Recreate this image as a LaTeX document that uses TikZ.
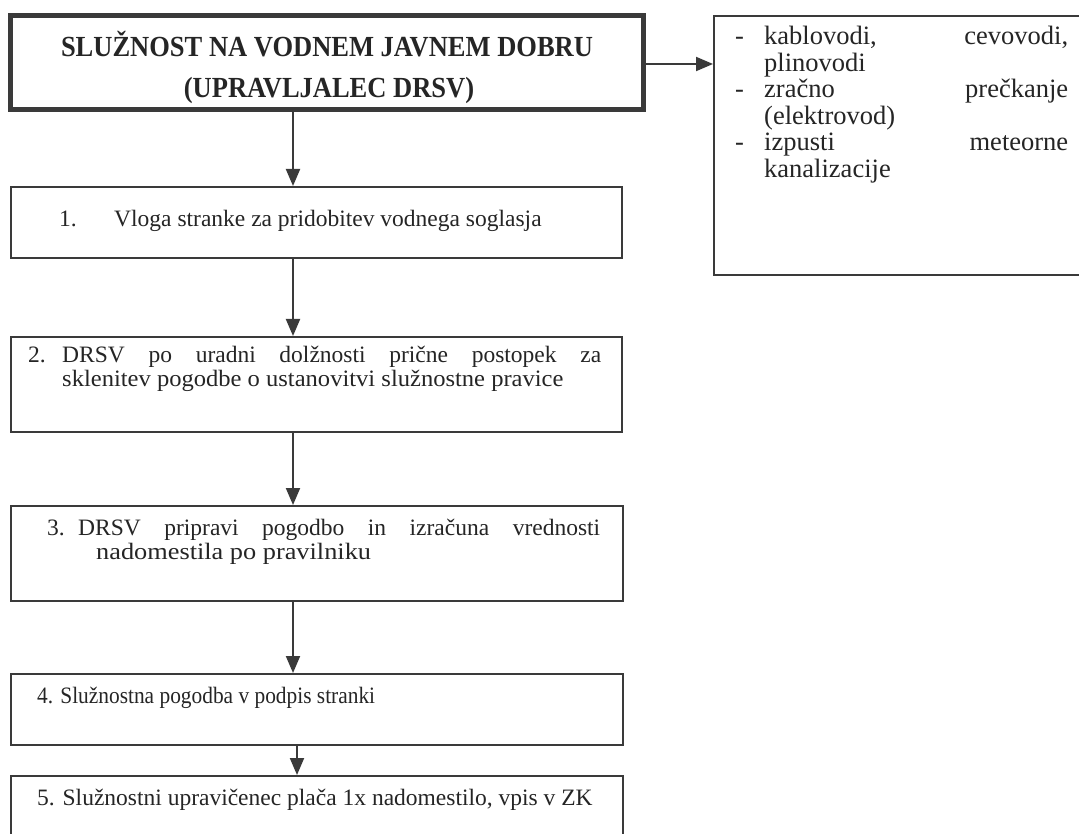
\documentclass[tikz,border=0pt]{standalone}
\usepackage{fontspec}
\setmainfont{Liberation Serif}
\usetikzlibrary{arrows.meta}
\definecolor{lc}{HTML}{3A3A3A}
\definecolor{tc}{HTML}{252525}
\begin{document}
\begin{tikzpicture}[x=1pt,y=-1pt,
  box/.style={draw=lc, line width=2pt, inner sep=0pt, rectangle},
  arr/.style={draw=lc, line width=2pt, -{Triangle[length=17pt,width=14pt]}},
  txt/.style={anchor=base west, inner sep=0pt, text=tc, font=\fontsize{23.5}{25}\selectfont},
  rtxt/.style={anchor=base west, inner sep=0pt, text=tc, font=\fontsize{26.5}{28}\selectfont},
  ttl/.style={anchor=base, inner sep=0pt, text=tc, font=\fontsize{26.5}{28}\selectfont\bfseries}]
\useasboundingbox (0,0) rectangle (1079,834);
\fill[white] (0,0) rectangle (1079,834);
% boxes
\node[box, line width=5pt, minimum width=633pt, minimum height=94pt] (top) at (327,63) {};
\node[box, minimum width=611pt, minimum height=71pt] (b1) at (316,222.5) {};
\node[box, minimum width=611pt, minimum height=95pt] (b2) at (316.5,384.5) {};
\node[box, minimum width=612pt, minimum height=95pt] (b3) at (317,553.5) {};
\node[box, minimum width=612pt, minimum height=71pt] (b4) at (317,709.5) {};
\node[box, minimum width=612pt, minimum height=100pt] (b5) at (317,826) {};
\node[box, minimum width=390pt, minimum height=259pt] (r) at (909,145.5) {};
% title
\node[ttl] (t1) at (327,57) {\scalebox{1}[1.1]{SLUŽNOST NA VODNEM JAVNEM DOBRU}};
\node[ttl] (t2) at (329,98) {\scalebox{1}[1.1]{(UPRAVLJALEC DRSV)}};
% box texts
\node[txt] (n1) at (59,227) {1.};
\node[txt] (x1) at (114,227) {Vloga stranke za pridobitev vodnega soglasja};
\node[txt] (n2) at (28,362) {2.};
\node[txt] (x2a) at (62,362) {\makebox[539pt][s]{DRSV po uradni dolžnosti prične postopek za}};
\node[txt] (x2b) at (62,386) {\scalebox{1.045}[1]{sklenitev pogodbe o ustanovitvi služnostne pravice}};
\node[txt] (n3) at (47,535) {3.};
\node[txt] (x3a) at (78,535) {\makebox[522pt][s]{DRSV pripravi pogodbo in izračuna vrednosti}};
\node[txt] (x3b) at (96,559) {\scalebox{1.12}[1]{nadomestila po pravilniku}};
\node[txt] (x4) at (37,703) {\scalebox{0.91}[1]{4. Služnostna pogodba v podpis stranki}};
\node[txt] (x5) at (37,805) {5. Služnostni upravičenec plača 1x nadomestilo, vpis v ZK};
% right box text
\node[rtxt] (d1) at (735,45) {-};
\node[rtxt] (r1) at (764,45) {\makebox[304pt][s]{kablovodi, cevovodi,}};
\node[rtxt] (r2) at (764,71.5) {plinovodi};
\node[rtxt] (d2) at (735,98) {-};
\node[rtxt] (r3) at (764,98) {\makebox[304pt][s]{zračno prečkanje}};
\node[rtxt] (r4) at (764,124.5) {(elektrovod)};
\node[rtxt] (d3) at (735,151) {-};
\node[rtxt] (r5) at (764,151) {\makebox[304pt][s]{izpusti meteorne}};
\node[rtxt] (r6) at (764,177.5) {kanalizacije};
% arrows
\draw[arr] (top.south -| 293,0) -- (b1.north -| 293,0);
\draw[arr] (b1.south -| 293,0) -- (b2.north -| 293,0);
\draw[arr] (b2.south -| 293,0) -- (b3.north -| 293,0);
\draw[arr] (b3.south -| 293,0) -- (b4.north -| 293,0);
\draw[arr] (b4.south -| 297,0) -- (b5.north -| 297,0);
\draw[arr] (top.east |- 0,64) -- (r.west |- 0,64);
\end{tikzpicture}
\end{document}
